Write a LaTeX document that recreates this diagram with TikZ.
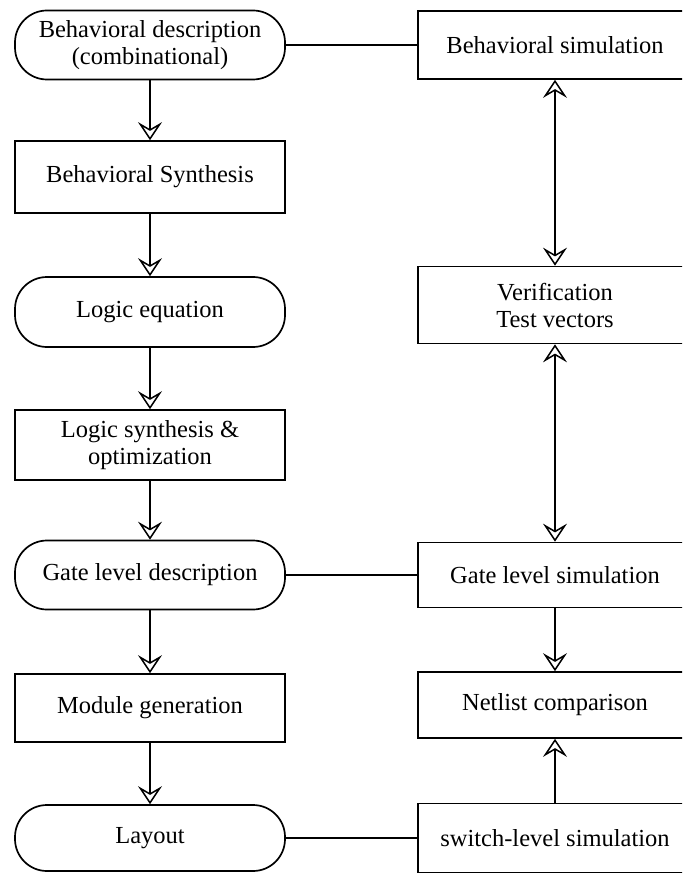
\documentclass[tikz,border=0pt]{standalone}
\usepackage{fontspec}
\setmainfont{Liberation Serif}
\usetikzlibrary{arrows.meta,positioning}

\begin{document}
\begin{tikzpicture}[
  x=1pt, y=-1pt,
  procbox/.style={draw, line width=1.7pt, minimum width=270pt, minimum height=#1, inner sep=2pt, align=center, font=\fontsize{24.5}{27}\selectfont},
  procbox/.default=70pt,
  termbox/.style={procbox=#1, rounded corners=32pt},
  termbox/.default=70pt,
  wide/.style={minimum width=274pt},
  arrow/.style={-{Stealth[open, length=18pt, width=24pt, inset=7pt, line width=1.5pt]}, line width=1.7pt},
  dblarrow/.style={{Stealth[open, length=18pt, width=24pt, inset=7pt, line width=1.5pt]}-{Stealth[open, length=18pt, width=24pt, inset=7pt, line width=1.5pt]}, line width=1.7pt},
  link/.style={line width=1.7pt}
]
  \useasboundingbox (0,0) rectangle (682,874);
  \clip (0,0) rectangle (682,874);

  % Synthesis column
  \node[termbox=69pt] (bdesc) at (150,45) {Behavioral description\\(combinational)};
  \node[procbox=72pt] (bsynth) at (150,177) {Behavioral Synthesis};
  \node[termbox] (logiceq) at (150,312) {Logic equation};
  \node[procbox] (logicsyn) at (150,445) {Logic synthesis \&\\optimization};
  \node[termbox=69pt] (gatedesc) at (150,575) {Gate level description};
  \node[procbox=68pt] (modgen) at (150,708) {Module generation};
  \node[termbox=66pt] (layout) at (150,838) {Layout};

  % Simulation column
  \node[procbox=68pt, wide] (behsim) at (555,45) {Behavioral simulation};
  \node[procbox=77pt, wide] (verif) at (555,305) {Verification\\Test vectors};
  \node[procbox=65pt, wide] (gatesim) at (555,575) {Gate level simulation};
  \node[procbox=66pt, wide] (netlist) at (555,705) {Netlist comparison};
  \node[procbox=69pt, wide] (switchsim) at (555,838) {switch-level simulation};

  % Flow arrows
  \draw[arrow] (bdesc) -- (bsynth);
  \draw[arrow] (bsynth) -- (logiceq);
  \draw[arrow] (logiceq) -- (logicsyn);
  \draw[arrow] (logicsyn) -- (gatedesc);
  \draw[arrow] (gatedesc) -- (modgen);
  \draw[arrow] (modgen) -- (layout);

  \draw[dblarrow] (behsim) -- (verif);
  \draw[dblarrow] (verif) -- (gatesim);
  \draw[arrow] (gatesim) -- (netlist);
  \draw[arrow] (switchsim) -- (netlist);

  % Cross links
  \draw[link] (bdesc) -- (behsim);
  \draw[link] (gatedesc) -- (gatesim);
  \draw[link] (layout) -- (switchsim);
\end{tikzpicture}
\end{document}
